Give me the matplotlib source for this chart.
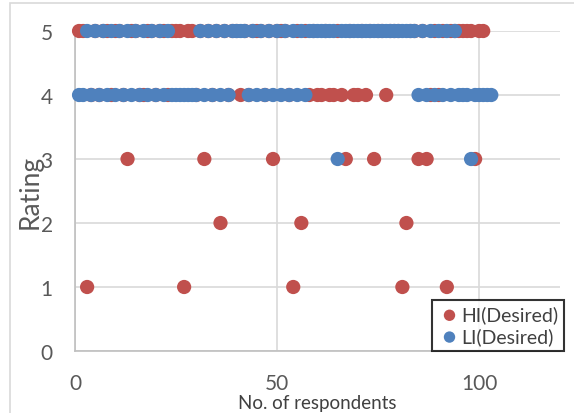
import matplotlib
matplotlib.use("Agg")
import matplotlib.pyplot as plt
from matplotlib.patches import Rectangle

# HI(Desired): respondent number -> rating
hi_x = list(range(1, 102))
hi_y = [5, 5, 1, 4, 5, 4, 5, 5, 4, 5,
        5, 4, 3, 5, 5, 4, 4, 5, 5, 4,
        5, 5, 4, 5, 5, 5, 1, 5, 5, 4,
        5, 3, 5, 4, 5, 2, 5, 4, 5, 5,
        4, 5, 4, 5, 5, 5, 4, 5, 3, 5,
        5, 5, 4, 1, 5, 2, 5, 4, 5, 4,
        4, 5, 4, 4, 5, 4, 3, 5, 4, 4,
        5, 4, 5, 3, 5, 5, 4, 5, 5, 5,
        1, 2, 5, 5, 3, 5, 3, 4, 5, 4,
        5, 1, 5, 5, 5, 5, 5, 5, 3, 5,
        5]

# LI(Desired): respondent number -> rating
li_x = list(range(1, 104))
li_y = [4, 4, 5, 4, 5, 4, 5, 4, 5, 4,
        5, 4, 5, 4, 5, 4, 5, 4, 5, 4,
        5, 4, 5, 4, 4, 4, 4, 4, 4, 4,
        5, 4, 5, 4, 5, 4, 5, 4, 5, 5,
        5, 5, 4, 5, 4, 5, 4, 5, 4, 5,
        4, 5, 4, 5, 4, 5, 4, 5, 5, 5,
        5, 5, 5, 5, 3, 5, 5, 5, 5, 5,
        5, 5, 5, 5, 5, 5, 5, 5, 5, 5,
        5, 5, 5, 5, 4, 5, 4, 5, 4, 5,
        4, 5, 4, 5, 4, 4, 4, 3, 4, 4,
        4, 4, 4]

x_ticks = [0, 50, 100]
y_ticks = [0, 1, 2, 3, 4, 5]

plt.rcParams['font.family'] = ['Lato', 'DejaVu Sans']

fig = plt.figure(figsize=(5.74, 4.14), dpi=100)
W, H = 574, 414
ax = fig.add_axes([75 / W, 1 - 352 / H, (560 - 75) / W, (352 - 32) / H])

# outer chart-area border
fig.patches.append(Rectangle((10 / W, -0.05), 1.2, 1 - 3.5 / H + 0.05,
                             transform=fig.transFigure, fill=False,
                             edgecolor='#D9D9D9', linewidth=1.2, zorder=0))

red = '#C0504D'
blue = '#4F81BD'
ax.scatter(hi_x, hi_y, s=105, color=red, edgecolors='none', zorder=3, label='HI(Desired)', clip_on=False)
ax.scatter(li_x, li_y, s=105, color=blue, edgecolors='none', zorder=4, label='LI(Desired)', clip_on=False)

ax.set_xlim(0, 120)
ax.set_ylim(0, 5)
ax.set_xticks(x_ticks)
ax.set_yticks(y_ticks)
ax.grid(True, color='#D9D9D9', linewidth=1.2, zorder=0)
ax.set_axisbelow(True)
for s in ['top', 'right']:
    ax.spines[s].set_visible(False)
for s in ['left', 'bottom']:
    ax.spines[s].set_color('#BFBFBF')
    ax.spines[s].set_linewidth(1.2)
ax.tick_params(length=0, labelsize=15, colors='#595959')
ax.tick_params(axis='y', pad=16)
ax.tick_params(axis='x', pad=16)

ax.set_xlabel('No. of respondents', fontsize=13.5, color='#404040', labelpad=0)
ax.xaxis.set_label_coords(0.5, -0.133)
ax.set_ylabel('Rating', fontsize=19, color='#595959')
ax.yaxis.set_label_coords(-0.066, 0.5)

leg = ax.legend(loc='lower left', bbox_to_anchor=(432 / W, 1 - 352 / H),
                bbox_transform=fig.transFigure, frameon=True, fontsize=14,
                handletextpad=0.0, borderpad=0.3, labelspacing=0.2,
                handlelength=1.2, markerscale=0.8, fancybox=False,
                borderaxespad=0)
leg.get_frame().set_edgecolor('black')
leg.get_frame().set_linewidth(1.5)
for t in leg.get_texts():
    t.set_color('#404040')

fig.savefig('out.png', dpi=100)
